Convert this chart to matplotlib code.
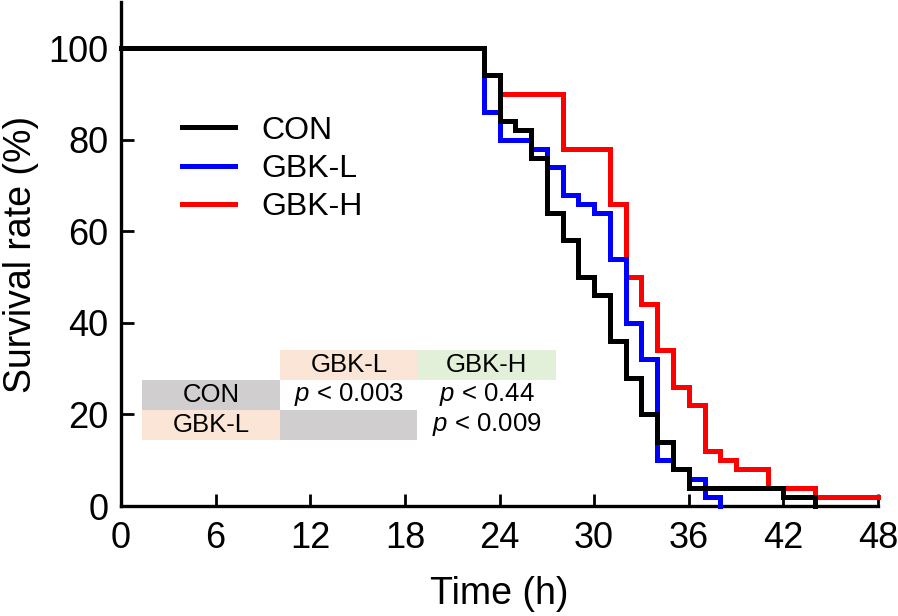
import matplotlib
matplotlib.use("Agg")
import matplotlib.pyplot as plt
from matplotlib.patches import Rectangle

plt.rcParams['font.family'] = ['Liberation Sans', 'DejaVu Sans']
plt.rcParams['mathtext.fontset'] = 'custom'
plt.rcParams['mathtext.it'] = 'Liberation Sans:italic'
plt.rcParams['mathtext.rm'] = 'Liberation Sans'

# Kaplan-Meier steps (time in h, survival in %)
con_t = [0, 23, 24, 25, 26, 27, 28, 29, 30, 31, 32, 33, 34, 35, 36, 42, 44]
con_s = [100, 94, 84, 82, 76, 64, 58, 50, 46, 36, 28, 20, 14, 8, 4, 2, 0]

gbkl_t = [0, 23, 24, 26, 27, 28, 29, 30, 31, 32, 33, 34, 35, 36, 37, 38]
gbkl_s = [100, 86, 80, 78, 74, 68, 66, 64, 54, 40, 32, 10, 8, 6, 2, 0]

gbkh_t = [0, 23, 24, 28, 31, 32, 33, 34, 35, 36, 37, 38, 39, 41, 44, 48]
gbkh_s = [100, 94, 90, 78, 66, 50, 44, 34, 26, 22, 12, 10, 8, 4, 2, 2]

x_ticks = [0, 6, 12, 18, 24, 30, 36, 42, 48]
y_ticks = [0, 20, 40, 60, 80, 100]

# log-rank table
table_cells = [
    (0, 1, "GBK-L", "#FBE5D6"),
    (0, 2, "GBK-H", "#E2F0D9"),
    (1, 0, "CON", "#D0CECE"),
    (1, 1, "$p$ < 0.003", "white"),
    (1, 2, "$p$ < 0.44", "white"),
    (2, 0, "GBK-L", "#FBE5D6"),
    (2, 1, "", "#D0CECE"),
    (2, 2, "$p$ < 0.009", "white"),
]
col_edges = [1.3, 10.1, 18.8, 27.6]
row_edges = [34.1, 27.6, 21.0, 14.4]

fig = plt.figure(figsize=(8.98, 6.16), dpi=100)
ax = fig.add_axes([121 / 898, 1 - 506 / 616, 757 / 898, (4.58 * 110) / 616])

ax.step(gbkh_t, gbkh_s, where='post', color='#FF0000', lw=3.6, label='GBK-H',
        solid_joinstyle='miter', clip_on=False, zorder=3)
ax.step(gbkl_t, gbkl_s, where='post', color='#0000FF', lw=3.6, label='GBK-L',
        solid_joinstyle='miter', clip_on=False, zorder=4)
ax.step(con_t, con_s, where='post', color='black', lw=3.6, label='CON',
        solid_joinstyle='miter', clip_on=False, zorder=5)

ax.set_xlim(0, 48)
ax.set_ylim(0, 110)
ax.set_xticks(x_ticks)
ax.set_yticks(y_ticks)
ax.tick_params(direction='in', length=9, width=2, labelsize=26, pad=9)
ax.tick_params(axis='x', pad=11)
for side in ['top', 'right']:
    ax.spines[side].set_visible(False)
for side in ['left', 'bottom']:
    ax.spines[side].set_linewidth(2.4)

ax.set_xlabel("Time (h)", fontsize=27, labelpad=14)
ax.set_ylabel("Survival rate (%)", fontsize=27, labelpad=7)

handles, labels = ax.get_legend_handles_labels()
order = [2, 1, 0]
ax.legend([handles[i] for i in order], [labels[i] for i in order],
          loc='upper left', bbox_to_anchor=(0.042, 0.832), frameon=False,
          fontsize=23, handlelength=1.66, handletextpad=0.85, labelspacing=0.26)

for r, c, txt, fc in table_cells:
    x0, x1 = col_edges[c], col_edges[c + 1]
    y0, y1 = row_edges[r + 1], row_edges[r]
    ax.add_patch(Rectangle((x0, y0), x1 - x0, y1 - y0, facecolor=fc,
                           edgecolor='none', zorder=1))
    if txt:
        ax.text((x0 + x1) / 2, (y0 + y1) / 2, txt, ha='center', va='center',
                fontsize=18.5, zorder=2)

fig.savefig("out.png", dpi=100)
